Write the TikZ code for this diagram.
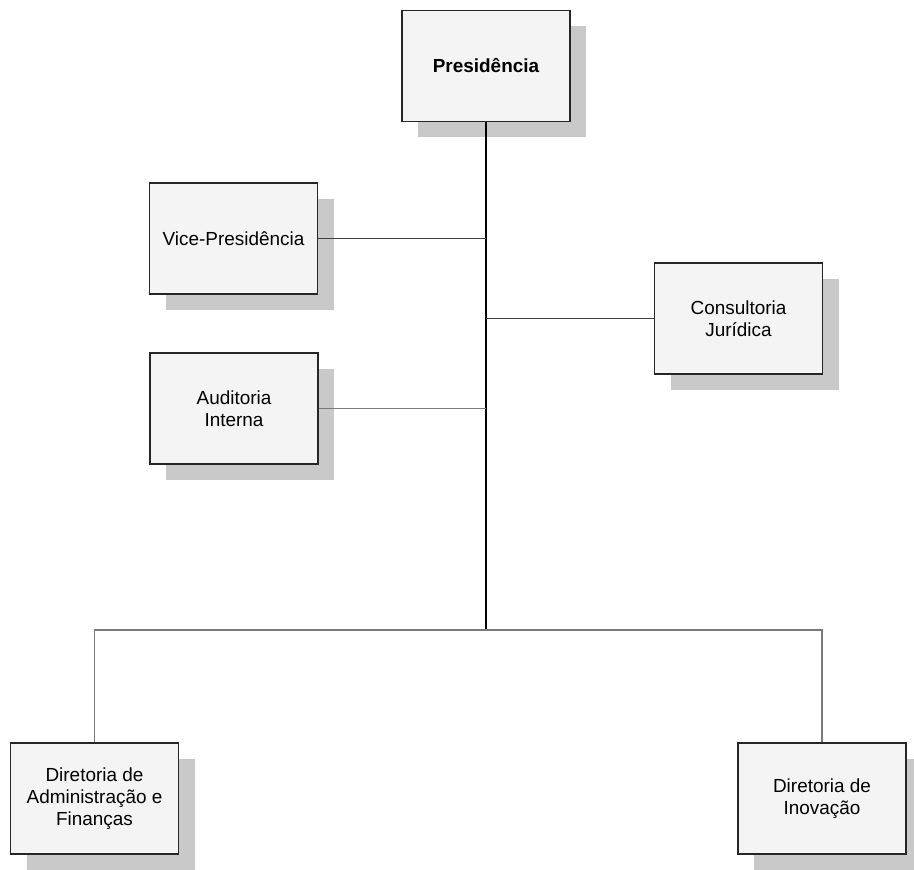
\documentclass[tikz,border=0pt]{standalone}
\usepackage{fontspec}
\setmainfont{Liberation Sans}
\usetikzlibrary{shadows}
\definecolor{boxfill}{HTML}{F4F4F4}
\definecolor{shadowgray}{HTML}{C9C9C9}
\definecolor{linegray}{HTML}{7A7A7A}
\begin{document}
\begin{tikzpicture}[x=0.75pt,y=-0.75pt,
  orgbox/.style={draw=black!85, line width=0.9pt, fill=boxfill,
    minimum width=126pt, minimum height=83.25pt, inner sep=0pt,
    align=center, font=\fontsize{14.2pt}{16.6pt}\selectfont,
    drop shadow={shadow xshift=12pt, shadow yshift=-12pt, fill=shadowgray, opacity=1}},
  trunk/.style={draw=black, line width=1.5pt},
  branch/.style={draw=black!75, line width=0.9pt},
  lbranch/.style={draw=linegray, line width=1.1pt}]
\useasboundingbox (0,0) rectangle (914,870);
\node[orgbox, font=\fontsize{14.2pt}{16.6pt}\selectfont\bfseries] (pres) at (486,66) {Presidência};
\node[orgbox] (vice) at (233.5,238.5) {Vice-Presidência};
\node[orgbox] (aud) at (234,408.5) {Auditoria\\Interna};
\node[orgbox] (cons) at (738.5,318.5) {Consultoria\\Jurídica};
\node[orgbox] (daf) at (94.5,798.5) {Diretoria de\\Administração e\\Finanças};
\node[orgbox] (dinov) at (822,798.5) {Diretoria de\\Inovação};
\coordinate (j) at (486,630);
\draw[trunk] (pres.south) -- (j);
\draw[branch] (vice.east) -- (vice.east -| j);
\draw[lbranch] (aud.east) -- (aud.east -| j);
\draw[branch] (cons.west) -- (cons.west -| j);
\draw[lbranch] (daf.north) |- (j) -| (dinov.north);
\end{tikzpicture}
\end{document}
